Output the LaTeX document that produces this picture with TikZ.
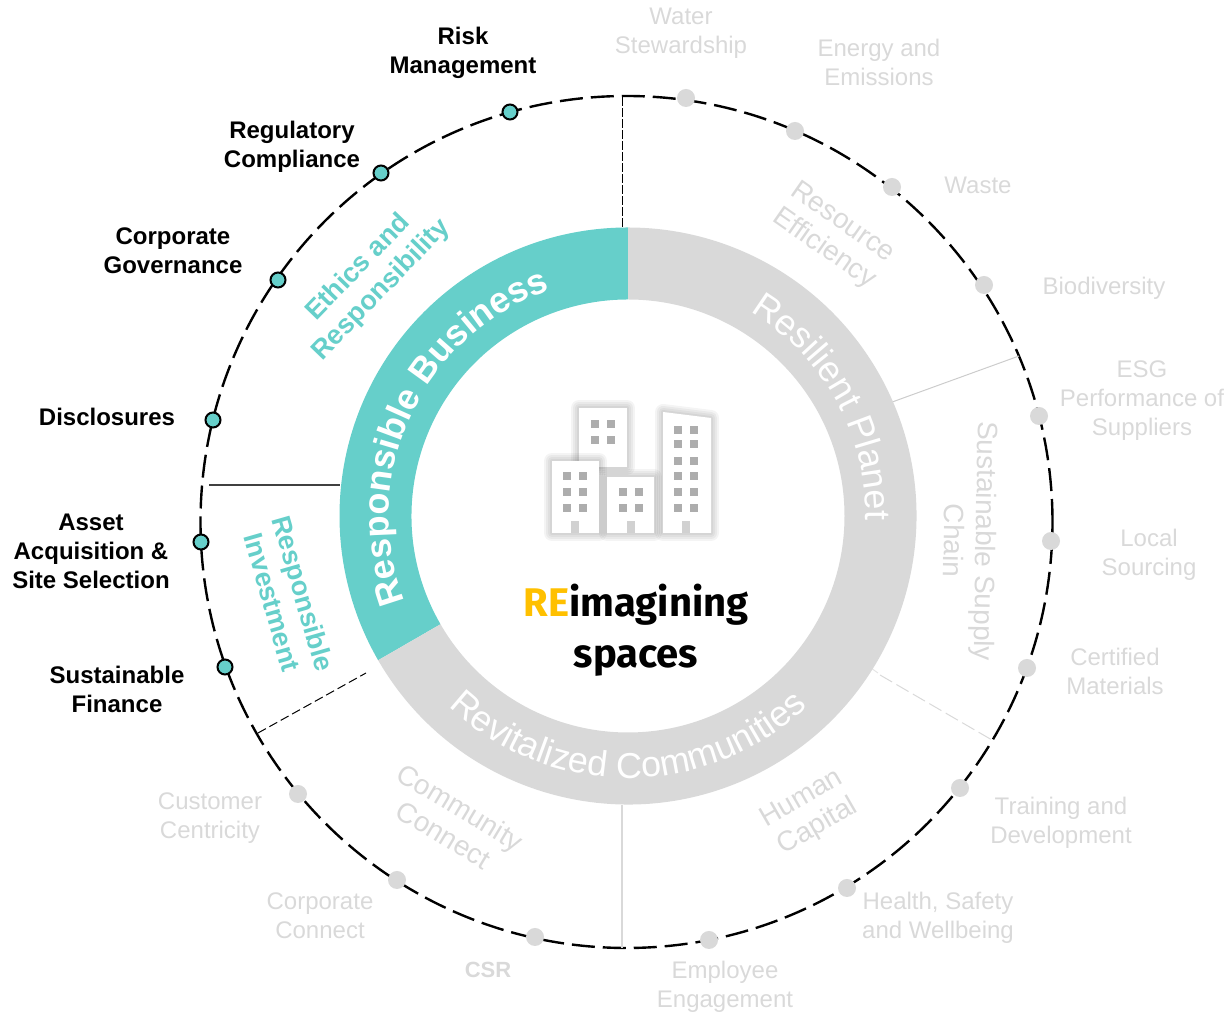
\documentclass[tikz,border=0pt]{standalone}
\usepackage{fontspec}
\setmainfont{Liberation Sans}
\newfontfamily\logofont{Fira Sans}
\usetikzlibrary{calc,decorations.text}
\definecolor{ringteal}{HTML}{66CFCA}
\definecolor{ringgrey}{HTML}{D9D9D9}
\definecolor{logoyellow}{HTML}{FFC000}
\tikzset{
	pix/.style={shift={(0,1016)},y=-1pt},
	boldlabel/.style={align=center,font=\fontsize{24}{29}\selectfont\bfseries,text=black},
	greylabel/.style={align=center,font=\fontsize{24}{29}\selectfont,text=ringgrey},
	teallabel/.style={align=center,font=\fontsize{27}{32}\selectfont\bfseries,text=ringteal},
	pillarlabel/.style={align=center,font=\fontsize{28}{32}\selectfont,text=ringgrey},
	tealdot/.style={circle,draw=black,line width=2pt,fill=ringteal,minimum size=15pt,inner sep=0pt},
	greydot/.style={circle,fill=ringgrey,minimum size=18pt,inner sep=0pt},
	windowbox/.style={fill=black!32},
	doorbox/.style={fill=black!18},
}
\def\ringtext[#1](#2:#3:#4)#5;{\path[decorate,decoration={text along path,text align=center,text={|\fontsize{36}{36}\selectfont#1|#5}}] ($(ringcentre)+(#2:#4)$) arc (#2:#3:#4);}
\def\block#1;{\foreach \w in {16,12,8,4}{\draw[line width=\w pt,black,opacity=0.045,line join=round] #1;}\fill[white] #1;}

\begin{document}
\begin{tikzpicture}[x=1pt,y=1pt]
			%%%%% START %%%%%
			\useasboundingbox (0,0) rectangle (1227,1016);
			\coordinate (ringcentre) at (628,500);
			\coordinate (outercentre) at (626.5,494);
			
			% outer ring
			\draw[line width=2.4pt,dash pattern=on 23pt off 8pt] (outercentre) circle (426);
			
			% dividers
			\begin{scope}[pix]
				\coordinate (divtopa) at (622,97);
				\coordinate (divtopb) at (622,228);
				\coordinate (divplaneta) at (1019,356);
				\coordinate (divplanetb) at (884,405);
				\coordinate (divsupplya) at (880,675);
				\coordinate (divsupplyb) at (992,740);
				\coordinate (divsupplyc) at (820,632);
				\coordinate (divsupplyd) at (878,673);
				\coordinate (divbottoma) at (622,805);
				\coordinate (divbottomb) at (622,948);
				\coordinate (divinvesta) at (258,733);
				\coordinate (divinvestb) at (366,673);
				\coordinate (divbusinessa) at (209,485);
				\coordinate (divbusinessb) at (340,485);
			\end{scope}
			\draw[line width=1pt,dash pattern=on 9pt off 2pt] (divtopa) -- (divtopb);
			\draw[line width=1pt,black!20] (divplaneta) -- (divplanetb);
			\draw[line width=1pt,black!15,dash pattern=on 14pt off 5pt] (divsupplya) -- (divsupplyb);
			\draw[line width=1pt,black!10] (divsupplyc) -- (divsupplyd);
			\draw[line width=1.2pt,black!15] (divbottoma) -- (divbottomb);
			\draw[line width=1pt,dash pattern=on 9pt off 4pt] (divinvesta) -- (divinvestb);
			\draw[line width=1.2pt,black!75] (divbusinessa) -- (divbusinessb);
			
			% main ring
			\fill[ringteal] ($(ringcentre)+(90:288.5)$) arc (90:210:288.5) -- ($(ringcentre)+(210:216.5)$) arc (210:90:216.5) -- cycle;
			\fill[ringgrey] ($(ringcentre)+(210:288.5)$) arc (210:450:288.5) -- ($(ringcentre)+(90:216.5)$) arc (90:-150:216.5) -- cycle;
			\ringtext[\bfseries\color{white}](215:95:239){Responsible Business};
			\ringtext[\color{white}](75:-17:238){Resilient Planet};
			\ringtext[\color{white}](-150:-30:262){Revitalized Communities};
			
			\begin{scope}[pix]
				% buildings
				\block (579,408) rectangle (627,467);
				\foreach \x/\y in {591/420,607/420,591/436,607/436} \fill[windowbox] (\x,\y) rectangle ++(8,8);
				\block (552,461) rectangle (599,533);
				\foreach \x in {563,579} \foreach \y in {472,488,504} \fill[windowbox] (\x,\y) rectangle ++(8,8);
				\fill[doorbox] (571,521) rectangle (579,533);
				\block (607,477) rectangle (654,533);
				\foreach \x in {619,635} \foreach \y in {488,504} \fill[windowbox] (\x,\y) rectangle ++(8,8);
				\fill[doorbox] (627,521) rectangle (635,533);
				\block (663,412) -- (711,418) -- (711,533) -- (663,533) -- cycle;
				\foreach \x in {674,690} \foreach \y in {426,440,457,472,488,504} \fill[windowbox] (\x,\y) rectangle ++(8,8);
				\fill[doorbox] (682,521) rectangle (690,533);
				
				\node[align=center,font=\fontsize{40}{51}\selectfont\logofont\bfseries] (logo) at (636,630) {{\color{logoyellow}RE}imagining\\spaces};
				
				% pillars
				\node[teallabel,rotate=46] (ethics) at (370,279) {Ethics and\\Responsibility};
				\node[teallabel,rotate=-74] (invest) at (288,598) {Responsible\\Investment};
				\node[pillarlabel,rotate=-35] (resource) at (833,236) {Resource\\Efficiency};
				\node[pillarlabel,rotate=-91] (supply) at (970,541) {Sustainable Supply\\Chain};
				\node[pillarlabel,rotate=30] (human) at (810,813) {Human\\Capital};
				\node[pillarlabel,rotate=-31] (community) at (452,821) {Community\\Connect};
				
				% teal side
				\node[tealdot] (riskdot) at (510,112) {};
				\node[tealdot] (regdot) at (381,173) {};
				\node[tealdot] (govdot) at (278,280) {};
				\node[tealdot] (discdot) at (213,420) {};
				\node[tealdot] (assetdot) at (201,542) {};
				\node[tealdot] (findot) at (225,667) {};
				\node[boldlabel] (risk) at (463,53) {Risk\\Management};
				\node[boldlabel] (reg) at (292,147) {Regulatory\\Compliance};
				\node[boldlabel] (gov) at (173,251) {Corporate\\Governance};
				\node[boldlabel] (disc) at (107,417) {Disclosures};
				\node[boldlabel] (asset) at (91,551) {Asset\\Acquisition \&\\Site Selection};
				\node[boldlabel] (fin) at (117,689) {Sustainable\\Finance};
				
				% grey side
				\node[greydot] (waterdot) at (686,98) {};
				\node[greydot] (energydot) at (795,131) {};
				\node[greydot] (wastedot) at (892,187) {};
				\node[greydot] (biodot) at (984,285) {};
				\node[greydot] (esgdot) at (1039,416) {};
				\node[greydot] (localdot) at (1051,541) {};
				\node[greydot] (certdot) at (1027,668) {};
				\node[greydot] (traindot) at (960,788) {};
				\node[greydot] (healthdot) at (847,888) {};
				\node[greydot] (empdot) at (709,940) {};
				\node[greydot] (csrdot) at (535,937) {};
				\node[greydot] (conndot) at (397,880) {};
				\node[greydot] (custdot) at (298,794) {};
				\node[greylabel] (water) at (681,33) {Water\\Stewardship};
				\node[greylabel] (energy) at (879,62) {Energy and\\Emissions};
				\node[greylabel] (waste) at (978,185) {Waste};
				\node[greylabel] (bio) at (1104,288) {Biodiversity};
				\node[greylabel] (esg) at (1142,401) {ESG\\Performance of\\Suppliers};
				\node[greylabel] (local) at (1149,555) {Local\\Sourcing};
				\node[greylabel] (cert) at (1115,671) {Certified\\Materials};
				\node[greylabel] (train) at (1061,823) {Training and\\Development};
				\node[greylabel] (health) at (938,918) {Health, Safety\\and Wellbeing};
				\node[greylabel] (emp) at (725,987) {Employee\\Engagement};
				\node[greylabel,font=\fontsize{22}{29}\selectfont\bfseries] (csr) at (488,970) {CSR};
				\node[greylabel] (conn) at (320,916) {Corporate\\Connect};
				\node[greylabel] (cust) at (210,818) {Customer\\Centricity};
			\end{scope}
			%%%%% END %%%%%
\end{tikzpicture}
\end{document}
